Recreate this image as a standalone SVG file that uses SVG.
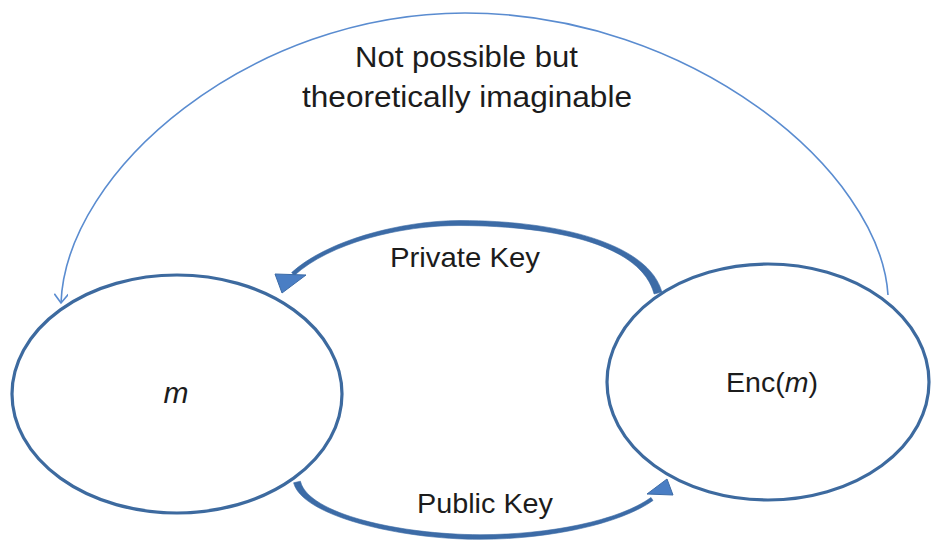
<svg xmlns="http://www.w3.org/2000/svg" width="931" height="540" viewBox="0 0 931 540">
  <style>
    .node { fill: #ffffff; stroke: #3d6a9f; stroke-width: 3.2; }
    .label { font-family: "Liberation Sans", Arial, sans-serif; fill: #1c1c1c; text-anchor: middle; }
    .thin { fill: none; stroke: #5a8cd0; stroke-width: 1.6; }
    .shaft { fill: #3c6ba6; stroke: #3c6ba6; stroke-width: 0.6; stroke-linejoin: round; }
    .head { fill: #4a7ec4; stroke: #3c6ba6; stroke-width: 1; stroke-linejoin: round; }
  </style>
  <defs>
    <marker id="openArrow" viewBox="0 0 14 14" refX="12" refY="7" markerWidth="14" markerHeight="14" markerUnits="userSpaceOnUse" orient="auto">
      <path d="M3,0 L12,7 L3,14" fill="none" stroke="#5a8cd0" stroke-width="1.6"/>
    </marker>
  </defs>

  <rect width="931" height="540" fill="#ffffff"/>

  <!-- nodes -->
  <g id="node-m">
    <ellipse class="node" cx="177" cy="394" rx="165" ry="119"/>
    <text class="label" x="176" y="403" font-size="30" font-style="italic">m</text>
  </g>
  <g id="node-enc">
    <ellipse class="node" cx="768" cy="382" rx="161" ry="118"/>
    <text class="label" x="772" y="392" font-size="28" textLength="92" lengthAdjust="spacingAndGlyphs">Enc(<tspan font-style="italic">m</tspan>)</text>
  </g>

  <!-- connectors -->
  <g id="connectors">
    <!-- thin arc: Enc(m) back to m -->
    <path class="thin" d="M 888 295 C 880 170, 690 13, 465 13 C 250 13, 66 170, 61 303" marker-end="url(#openArrow)"/>

    <!-- Private Key: Enc(m) to m -->
    <path class="shaft" d="M 661.9 292 C 648.5 244, 560 220.5, 460 220.5 C 400 220.8, 326.6 240.6, 291.6 272.6 L 294.4 275.4 C 329.4 243.4, 400 225.2, 460 225.5 C 560 226, 641.5 246, 654.1 294 Z"/>
    <polygon class="head" points="275,274 306,275 282,293"/>

    <!-- Public Key: m to Enc(m) -->
    <path class="shaft" d="M 293.6 482.8 C 302 516, 400 539.5, 480 539.3 C 550 539.3, 621 523.5, 653 500.5 L 651 497.5 C 619 520.5, 550 534.7, 480 534.7 C 400 534.5, 308 514, 300.4 481.2 Z"/>
    <polygon class="head" points="647,494 667,479 673,495"/>
  </g>

  <!-- labels -->
  <g id="labels">
    <text class="label" x="466.5" y="67" font-size="30" textLength="223" lengthAdjust="spacingAndGlyphs">Not possible but</text>
    <text class="label" x="467" y="107" font-size="30" textLength="330" lengthAdjust="spacingAndGlyphs">theoretically imaginable</text>
    <text class="label" x="465" y="267" font-size="28" textLength="150" lengthAdjust="spacingAndGlyphs">Private Key</text>
    <text class="label" x="485" y="513" font-size="28" textLength="136" lengthAdjust="spacingAndGlyphs">Public Key</text>
  </g>
</svg>
